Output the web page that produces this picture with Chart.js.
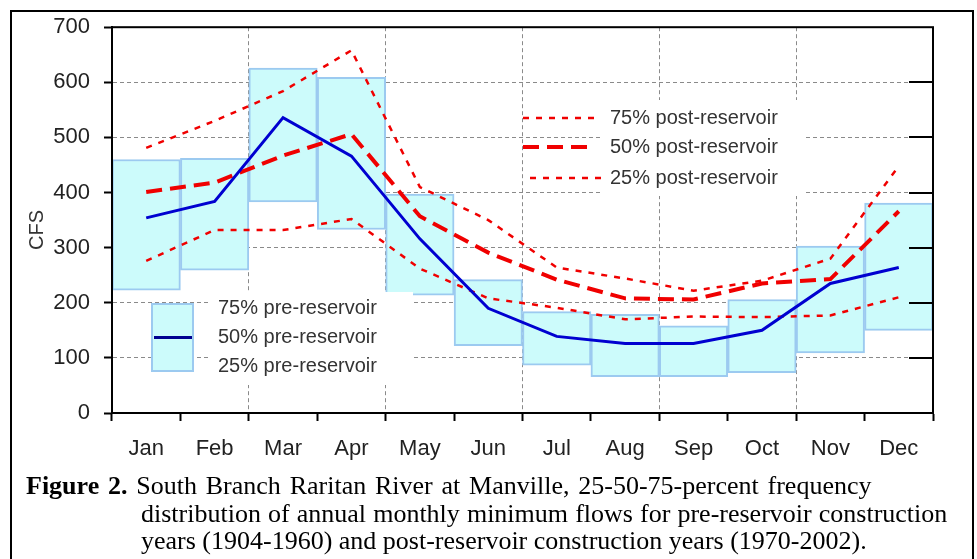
<!DOCTYPE html>
<html>
<head>
<meta charset="utf-8">
<script src="https://cdn.jsdelivr.net/npm/chart.js@4.4.0/dist/chart.umd.min.js"></script>
<style>
  html, body { margin: 0; padding: 0; background: #fff; }
  #wrap { position: relative; width: 977px; height: 559px; overflow: hidden; background: #fff; }
  #c { position: absolute; left: 0; top: 0; }
  #frame { position: absolute; left: 10px; top: 10px; width: 964px; height: 600px;
           border: 2px solid #000; box-sizing: border-box; pointer-events: none; }
  .cap { position: absolute; font-family: "Liberation Serif", "Times New Roman", serif;
         font-size: 26px; line-height: 27.5px; color: #000; white-space: nowrap; }
</style>
</head>
<body>
<div id="wrap">
  <canvas id="c" width="977" height="559"></canvas>
  <div id="frame"></div>
  <div class="cap" style="left:26px; top:472px; word-spacing:2.3px;"><b>Figure 2.</b> South Branch Raritan River at Manville, 25-50-75-percent frequency</div>
  <div class="cap" style="left:141px; top:500px; word-spacing:0.6px;">distribution of annual monthly minimum flows for pre-reservoir construction</div>
  <div class="cap" style="left:141px; top:527px;">years (1904-1960) and post-reservoir construction years (1970-2002).</div>
</div>
<script>
// Monthly minimum flow (CFS), South Branch Raritan River at Manville
const months = ['Jan', 'Feb', 'Mar', 'Apr', 'May', 'Jun', 'Jul', 'Aug', 'Sep', 'Oct', 'Nov', 'Dec'];

// pre-reservoir (1904-1960) percentiles
const pre25 = [223, 259, 383, 333, 214, 122, 87, 66, 66, 73, 109, 150];
const pre50 = [354, 384, 536, 466, 316, 190, 139, 126, 126, 150, 235, 264];
const pre75 = [460, 462, 626, 609, 397, 242, 184, 179, 158, 206, 303, 381];

// post-reservoir (1970-2002) percentiles
const post25 = [276, 332, 332, 352, 262, 208, 191, 170, 175, 174, 177, 210];
const post50 = [401, 418, 467, 506, 357, 291, 242, 208, 206, 235, 243, 366];
const post75 = [481, 530, 584, 658, 410, 350, 264, 244, 222, 240, 280, 448];

const yTicks = [0, 100, 200, 300, 400, 500, 600, 700];

const SANS = "'Liberation Sans', Arial, sans-serif";
const GRID = '#8a8a8a';
const BOX_FILL = '#ccfbfb';
const BOX_EDGE = '#9ccaf0';
const BLUE = '#0000d0';
const RED = '#f00000';

Chart.defaults.font.family = SANS;

const decor = {
  id: 'decor',
  afterDatasetsDraw(chart) {
    const { ctx, chartArea: a, scales: { y } } = chart;
    const ds = chart.data.datasets;
    ctx.save();

    // plot frame
    ctx.strokeStyle = '#000';
    ctx.lineWidth = 2;
    ctx.setLineDash([]);
    ctx.strokeRect(a.left, a.top, a.right - a.left, a.bottom - a.top);

    // inward ticks on the right edge
    yTicks.forEach(v => {
      if (v <= 0 || v >= 700) return;
      const py = Math.round(y.getPixelForValue(v));
      ctx.beginPath();
      ctx.moveTo(a.right - 24, py);
      ctx.lineTo(a.right, py);
      ctx.stroke();
    });

    // post-reservoir key
    ctx.fillStyle = '#fff';
    ctx.fillRect(603, 100, 200, 96);
    const postKeys = [
      { d: ds[3], y: 118, x0: 523, x1: 594, label: '75% post-reservoir' },
      { d: ds[2], y: 147, x0: 523, x1: 594, label: '50% post-reservoir' },
      { d: ds[1], y: 178, x0: 530, x1: 601, label: '25% post-reservoir' }
    ];
    ctx.font = '20px ' + SANS;
    ctx.textBaseline = 'middle';
    ctx.textAlign = 'left';
    postKeys.forEach(k => {
      ctx.strokeStyle = k.d.borderColor;
      ctx.lineWidth = k.d.borderWidth;
      ctx.setLineDash(k.d.borderDash);
      ctx.beginPath();
      ctx.moveTo(k.x0, k.y);
      ctx.lineTo(k.x1, k.y);
      ctx.stroke();
      ctx.setLineDash([]);
      ctx.fillStyle = '#333';
      ctx.fillText(k.label, 610, k.y);
    });

    // pre-reservoir key
    ctx.fillStyle = '#fff';
    ctx.fillRect(209, 292, 204, 93);
    ctx.fillStyle = ds[0].backgroundColor;
    ctx.fillRect(151, 303, 43, 69);
    ctx.strokeStyle = ds[0].borderColor;
    ctx.lineWidth = 2;
    ctx.strokeRect(152, 304, 41, 67);
    ctx.strokeStyle = '#000090';
    ctx.lineWidth = 3;
    ctx.beginPath();
    ctx.moveTo(154, 337.5);
    ctx.lineTo(192, 337.5);
    ctx.stroke();
    ctx.fillStyle = '#333';
    ctx.fillText('75% pre-reservoir', 218, 308);
    ctx.fillText('50% pre-reservoir', 218, 337);
    ctx.fillText('25% pre-reservoir', 218, 366);

    // y axis title
    ctx.save();
    ctx.translate(37, 230);
    ctx.rotate(-Math.PI / 2);
    ctx.textAlign = 'center';
    ctx.fillStyle = '#333';
    ctx.font = '20px ' + SANS;
    ctx.fillText('CFS', 0, 0);
    ctx.restore();

    ctx.restore();
  }
};

new Chart(document.getElementById('c'), {
  data: {
    labels: months,
    datasets: [
      {
        type: 'bar',
        label: '25%-75% pre-reservoir',
        data: months.map((m, i) => [pre25[i], pre75[i]]),
        backgroundColor: BOX_FILL,
        borderColor: BOX_EDGE,
        borderWidth: 2,
        borderSkipped: false,
        barPercentage: 1,
        categoryPercentage: 1,
        order: 10
      },
      {
        type: 'line',
        label: '25% post-reservoir',
        data: post25,
        borderColor: RED,
        borderWidth: 2.5,
        borderDash: [6, 7],
        pointRadius: 0,
        fill: false,
        tension: 0,
        order: 5
      },
      {
        type: 'line',
        label: '50% post-reservoir',
        data: post50,
        borderColor: RED,
        borderWidth: 4,
        borderDash: [16, 8],
        pointRadius: 0,
        fill: false,
        tension: 0,
        order: 4
      },
      {
        type: 'line',
        label: '75% post-reservoir',
        data: post75,
        borderColor: RED,
        borderWidth: 2.5,
        borderDash: [6, 7],
        pointRadius: 0,
        fill: false,
        tension: 0,
        order: 5
      },
      {
        type: 'line',
        label: '50% pre-reservoir',
        data: pre50,
        borderColor: BLUE,
        borderWidth: 3,
        pointRadius: 0,
        fill: false,
        tension: 0,
        order: 1
      }
    ]
  },
  options: {
    responsive: false,
    animation: false,
    devicePixelRatio: 1,
    layout: { padding: { left: 0, top: 25, right: 44, bottom: 0 } },
    plugins: { legend: { display: false }, tooltip: { enabled: false } },
    scales: {
      x: {
        type: 'category',
        offset: true,
        afterFit: s => { s.height = 146; },
        grid: {
          offset: true,
          color: c => [2, 4, 6, 8, 10].includes(c.index) ? GRID : 'rgba(0,0,0,0)',
          lineWidth: 1,
          tickColor: '#000',
          tickWidth: 2,
          tickLength: 8
        },
        border: { display: true, color: '#000', width: 2, dash: [4, 3] },
        ticks: { color: '#222', font: { size: 22 }, padding: 15, maxRotation: 0 }
      },
      y: {
        type: 'linear',
        min: 0,
        max: 700,
        afterFit: s => { s.width = 112; },
        afterBuildTicks: s => { s.ticks = yTicks.map(v => ({ value: v })); },
        grid: {
          color: c => (c.tick && c.tick.value > 0 && c.tick.value < 700) ? GRID : 'rgba(0,0,0,0)',
          lineWidth: 1,
          tickColor: '#000',
          tickWidth: 2,
          tickLength: 8
        },
        border: { display: true, color: '#000', width: 2, dash: [4, 3] },
        ticks: { color: '#222', font: { size: 22 }, padding: 14 }
      }
    }
  },
  plugins: [decor]
});
</script>
</body>
</html>
